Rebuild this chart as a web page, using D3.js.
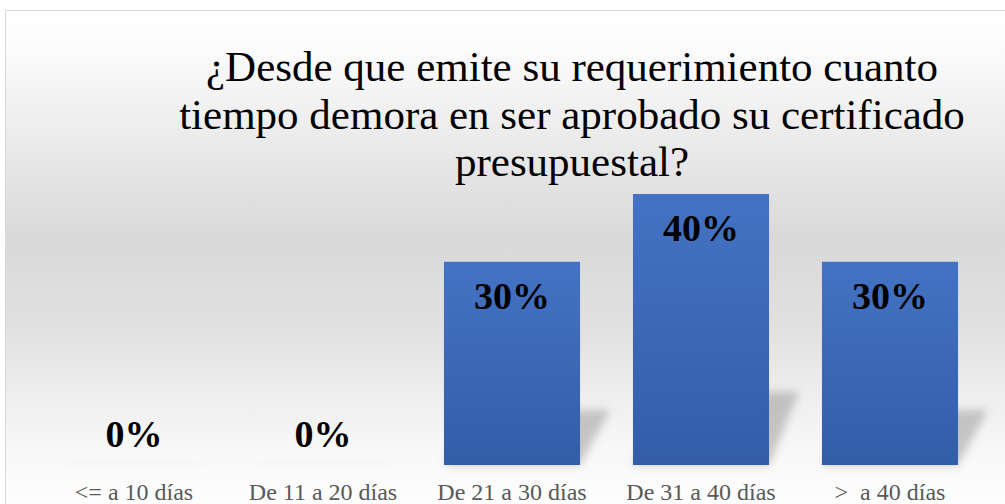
<!DOCTYPE html>
<html><head><meta charset="utf-8">
<script src="https://d3js.org/d3.v7.min.js"></script>
<style>body{margin:0;background:#fff}svg{display:block}</style>
</head><body>
<script>
const categories = ["<= a 10 días","De 11 a 20 días","De 21 a 30 días","De 31 a 40 días",">  a 40 días"];
const values = [0, 0, 0.30, 0.40, 0.30];
const valueLabels = ["0%","0%","30%","40%","30%"];
const titleLines = ["¿Desde que emite su requerimiento cuanto","tiempo demora en ser aprobado su certificado","presupuestal?"];

const W = 1005, H = 504;
const FONT = "'Liberation Serif', serif";
const svg = d3.select("body").append("svg").attr("width", W).attr("height", H);
const defs = svg.append("defs");

const bg = defs.append("linearGradient").attr("id","bg").attr("x1",0).attr("y1",0).attr("x2",0).attr("y2",1);
[[0,"#ffffff"],[0.08,"#fbfbfb"],[0.45,"#d9d9d9"],[0.62,"#e0e0e0"],[0.85,"#f6f6f6"],[1,"#ffffff"]]
  .forEach(([o,c])=>bg.append("stop").attr("offset",o).attr("stop-color",c));
const bar = defs.append("linearGradient").attr("id","bar").attr("x1",0).attr("y1",0).attr("x2",0).attr("y2",1);
[[0,"#4472c4"],[1,"#335da7"]].forEach(([o,c])=>bar.append("stop").attr("offset",o).attr("stop-color",c));
const blur = defs.append("filter").attr("id","blur").attr("x","-50%").attr("y","-50%").attr("width","200%").attr("height","200%");
blur.append("feGaussianBlur").attr("stdDeviation",4.5);

svg.append("rect").attr("x",5.5).attr("y",10.5).attr("width",W).attr("height",H)
  .attr("fill","url(#bg)").attr("stroke","#d9d9d9").attr("stroke-width",1);

const x = d3.scaleBand().domain(categories).range([39.5, 984.5]).paddingInner(0.28).paddingOuter(0.14);
const y = d3.scaleLinear().domain([0, 0.4]).range([465, 194]);

const g = svg.append("g");
// perspective shadows
g.selectAll("path.shadow").data(categories).join("path").attr("class","shadow")
  .attr("d",(c,i)=>{
    const x0 = x(c), x1 = x(c)+x.bandwidth(), b = y(0);
    const h = Math.max((y(0)-y(values[i]))*0.27, 3), dx = values[i] > 0 ? 30 : 0;
    return `M${x0},${b}L${x1},${b}L${x1+dx},${b-h}L${x0+dx},${b-h}Z`;
  })
  .attr("fill","#8a8a8a").attr("opacity",(c,i)=>values[i]>0?0.45:0.08).attr("filter","url(#blur)");

g.selectAll("rect.bar").data(categories).join("rect").attr("class","bar")
  .attr("x",c=>x(c)).attr("width",x.bandwidth())
  .attr("y",(c,i)=>y(values[i])).attr("height",(c,i)=>y(0)-y(values[i]))
  .attr("fill","url(#bar)");

g.selectAll("text.val").data(categories).join("text").attr("class","val")
  .attr("x",c=>x(c)+x.bandwidth()/2)
  .attr("y",(c,i)=> values[i]>0 ? y(values[i])+47 : y(0)-18)
  .attr("text-anchor","middle").attr("font-family",FONT)
  .attr("font-weight","bold").attr("font-size",38).attr("fill","#000")
  .text((c,i)=>valueLabels[i]);

const xAxis = d3.axisBottom(x).tickSize(0).tickPadding(0);
const ax = svg.append("g").attr("transform","translate(0,500)").call(xAxis);
ax.select(".domain").remove();
ax.attr("font-family",FONT);
ax.selectAll("text").attr("font-family",FONT)
  .attr("font-size",24).attr("fill","#595959").attr("dy",0).attr("y",0).style("white-space","pre");

svg.append("text").attr("text-anchor","middle").attr("font-family",FONT)
  .attr("font-size",43).attr("fill","#000")
  .selectAll("tspan").data(titleLines).join("tspan")
  .attr("x",572).attr("y",(d,i)=>81+i*47.5).text(d=>d);
</script>
</body></html>
